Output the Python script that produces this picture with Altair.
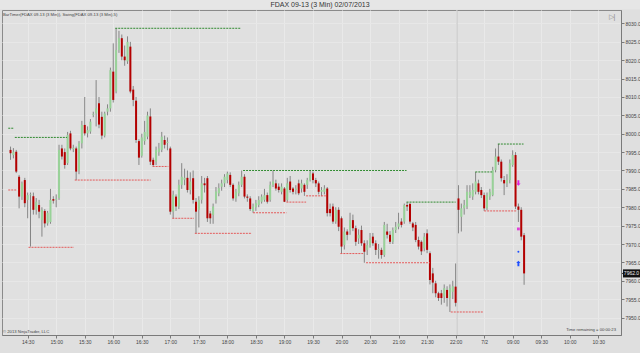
import json
import altair as alt
import pandas as pd

# ---------------- data ----------------
opens = [7995.6, 7994.2, 7995.1, 7988.3, 7982.9, 7987.4, 7982.0, 7983.3, 7983.0, 7979.3,
         7980.6, 7976.5, 7979.0, 7975.6, 7976.0, 7982.2, 7982.0, 7982.5, 7996.0, 7995.0,
         7992.0, 8000.1, 7995.8, 7996.0, 7990.0, 7997.4, 8002.4, 8000.1, 8000.6, 8005.1,
         8005.5, 8008.3, 8004.6, 7999.5, 8006.0, 8006.9, 8016.9, 8011.5, 8022.8, 8026.0,
         8021.0, 8019.7, 8023.7, 8012.0, 8009.0, 7998.0, 7994.0, 7998.0, 7999.2, 8004.7,
         7992.9, 7992.4, 7995.0, 7995.6, 7998.3, 7997.5, 7996.0, 7978.8, 7982.9, 7980.2,
         7986.1, 7987.5, 7988.0, 7984.7, 7987.9, 7981.5, 7979.3, 7982.0, 7986.5, 7987.9,
         7978.3, 7977.9, 7982.0, 7983.8, 7985.6, 7986.5, 7987.4, 7988.8, 7986.1, 7982.4,
         7983.8, 7986.1, 7988.3, 7982.9, 7982.4, 7979.0, 7980.0, 7980.6, 7981.5, 7982.0,
         7983.3, 7982.0, 7986.1, 7986.5, 7985.6, 7984.2, 7985.1, 7982.0, 7987.0, 7985.1,
         7984.7, 7986.5, 7985.1, 7986.1, 7986.1, 7987.4, 7989.2, 7987.4, 7986.5, 7984.2,
         7984.2, 7985.1, 7979.5, 7980.2, 7976.1, 7979.3, 7977.0, 7969.7, 7973.4, 7973.8,
         7976.5, 7974.3, 7971.5, 7973.8, 7970.2, 7968.4, 7969.7, 7972.0, 7970.2, 7968.4,
         7968.4, 7967.0, 7973.4, 7972.5, 7970.6, 7973.8, 7974.7, 7976.1, 7976.1, 7980.6,
         7980.9, 7975.6, 7975.2, 7971.1, 7970.6, 7968.8, 7972.9, 7967.5, 7962.0, 7959.3,
         7956.6, 7956.6, 7955.7, 7957.5, 7955.3, 7957.0, 7958.4,
         7982.4, 7977.4, 7979.7, 7980.2, 7983.3, 7982.9, 7984.2, 7986.5, 7984.7, 7983.3,
         7979.7, 7982.9, 7983.3, 7990.1, 7993.8, 7992.4, 7987.4, 7986.5, 7987.4, 7991.5,
         7994.2, 7980.2, 7979.3, 7972.4]
highs = [7996.5, 7996.1, 7995.6, 7988.8, 7987.0, 7988.0, 7984.0, 7984.0, 7984.0, 7982.5,
         7982.0, 7980.0, 7979.5, 7979.0, 7985.0, 7983.0, 7983.5, 7997.0, 7997.0, 7996.0,
         8000.5, 8000.8, 7997.0, 7996.5, 7998.0, 8003.5, 8010.0, 8002.0, 8004.0, 8006.0,
         8014.6, 8010.0, 8006.0, 8006.0, 8008.0, 8018.0, 8024.6, 8028.7, 8028.0, 8027.0,
         8024.0, 8026.5, 8025.0, 8013.0, 8010.0, 7998.5, 8000.0, 8003.5, 8006.0, 8006.9,
         7993.5, 7996.5, 7997.5, 8000.5, 7999.5, 7999.0, 7996.5, 7984.5, 7983.5, 7987.5,
         7992.0, 7990.5, 7990.0, 7989.5, 7990.0, 7982.5, 7983.0, 7988.5, 7988.0, 7988.5,
         7979.0, 7981.0, 7985.5, 7986.5, 7987.5, 7989.0, 7989.7, 7989.5, 7986.5, 7985.0,
         7987.0, 7990.0, 7989.0, 7983.5, 7983.0, 7981.0, 7982.0, 7983.0, 7983.5, 7985.0,
         7984.0, 7987.0, 7990.0, 7987.5, 7986.5, 7986.5, 7985.5, 7988.0, 7988.5, 7985.5,
         7986.0, 7987.5, 7987.5, 7986.5, 7988.0, 7990.1, 7989.7, 7988.0, 7987.0, 7985.5,
         7986.0, 7985.5, 7981.0, 7981.0, 7980.0, 7980.0, 7977.5, 7974.5, 7974.0, 7978.5,
         7978.0, 7975.0, 7974.0, 7975.0, 7971.0, 7971.0, 7973.0, 7973.0, 7971.0, 7970.0,
         7969.0, 7976.0, 7975.5, 7973.5, 7974.5, 7976.0, 7978.5, 7977.0, 7981.0, 7981.4,
         7981.2, 7976.0, 7976.0, 7972.0, 7971.0, 7973.0, 7974.0, 7968.0, 7963.5, 7960.0,
         7957.0, 7957.5, 7959.0, 7958.5, 7959.0, 7960.0, 7964.7,
         7986.0, 7981.0, 7982.0, 7986.0, 7986.0, 7986.5, 7989.6, 7987.5, 7985.5, 7984.0,
         7984.0, 7985.0, 7991.0, 7996.0, 7997.2, 7993.0, 7988.5, 7989.0, 7993.0, 7995.5,
         7995.0, 7981.0, 7980.0, 7973.0]
lows = [7992.9, 7993.3, 7989.3, 7979.7, 7982.0, 7980.0, 7977.0, 7969.3, 7978.0, 7978.0,
        7977.0, 7972.0, 7974.5, 7975.0, 7975.5, 7981.0, 7980.0, 7982.0, 7993.0, 7990.5,
        7991.5, 7995.5, 7995.0, 7987.4, 7989.0, 7996.0, 7999.5, 7999.0, 8000.0, 8004.5,
        8002.0, 8001.5, 7998.5, 7999.0, 8005.0, 8006.0, 8008.5, 8011.0, 8022.0, 8020.0,
        8018.5, 8019.0, 8011.0, 8007.5, 7997.5, 7991.5, 7993.5, 7997.0, 7998.5, 7991.5,
        7991.1, 7991.5, 7994.0, 7995.0, 7996.0, 7995.5, 7978.0, 7977.0, 7979.0, 7979.5,
        7985.0, 7986.0, 7984.0, 7983.5, 7981.0, 7972.9, 7974.5, 7981.0, 7984.0, 7976.0,
        7975.5, 7975.5, 7981.0, 7983.0, 7984.5, 7985.5, 7986.5, 7985.5, 7981.8, 7981.5,
        7983.0, 7985.5, 7982.4, 7981.5, 7979.0, 7978.5, 7979.0, 7980.0, 7981.0, 7981.5,
        7981.0, 7981.5, 7985.5, 7984.5, 7984.0, 7983.5, 7981.4, 7981.5, 7984.0, 7983.5,
        7983.5, 7983.3, 7984.0, 7983.1, 7985.0, 7987.0, 7986.5, 7985.5, 7983.5, 7983.0,
        7983.5, 7977.5, 7977.5, 7975.5, 7975.5, 7973.5, 7967.4, 7968.5, 7971.0, 7972.5,
        7973.5, 7969.5, 7970.0, 7969.5, 7964.9, 7967.0, 7969.0, 7969.5, 7967.0, 7966.0,
        7966.0, 7966.5, 7971.5, 7970.0, 7970.0, 7973.0, 7974.0, 7974.5, 7975.5, 7979.0,
        7975.5, 7973.5, 7970.5, 7968.5, 7967.0, 7968.0, 7967.5, 7959.0, 7956.6, 7955.5,
        7954.5, 7953.5, 7954.0, 7953.0, 7951.5, 7955.0, 7953.0,
        7972.9, 7973.4, 7978.0, 7979.5, 7982.5, 7982.0, 7983.5, 7983.5, 7982.5, 7979.0,
        7979.2, 7982.0, 7983.0, 7989.5, 7991.5, 7987.0, 7983.3, 7985.5, 7986.5, 7991.0,
        7979.5, 7976.0, 7971.0, 7958.9]
closes = [7994.7, 7995.1, 7989.7, 7982.9, 7986.5, 7981.1, 7983.3, 7983.5, 7979.3, 7981.5,
          7978.8, 7979.3, 7975.6, 7978.5, 7982.0, 7981.8, 7982.3, 7995.6, 7993.8, 7991.5,
          7999.7, 7996.0, 7996.2, 7989.7, 7997.4, 8002.4, 8000.1, 8001.0, 8003.3, 8005.3,
          8006.9, 8002.5, 7999.5, 8005.5, 8006.9, 8017.3, 8009.2, 8022.8, 8026.0, 8021.0,
          8020.0, 8025.0, 8011.5, 8009.2, 7998.3, 7993.5, 7999.0, 8000.5, 8005.0, 7992.4,
          7991.5, 7995.6, 7996.0, 7999.2, 7997.0, 7997.8, 7978.8, 7983.4, 7980.2, 7986.1,
          7988.3, 7988.0, 7984.7, 7987.0, 7982.0, 7978.8, 7982.0, 7986.5, 7986.0, 7977.0,
          7977.0, 7980.2, 7984.3, 7985.2, 7986.5, 7988.3, 7989.2, 7986.1, 7982.4, 7984.2,
          7986.1, 7988.3, 7982.9, 7982.6, 7979.5, 7980.2, 7981.1, 7982.0, 7982.9, 7983.3,
          7981.5, 7986.1, 7987.0, 7985.1, 7984.7, 7985.6, 7981.5, 7986.5, 7984.7, 7984.2,
          7985.1, 7983.8, 7986.5, 7984.2, 7987.4, 7989.2, 7987.4, 7986.5, 7984.2, 7984.7,
          7985.1, 7978.4, 7978.4, 7976.1, 7979.3, 7974.7, 7969.3, 7973.4, 7972.5, 7976.5,
          7974.3, 7970.6, 7972.5, 7970.2, 7967.9, 7969.7, 7971.5, 7970.2, 7968.4, 7968.6,
          7967.0, 7975.2, 7972.5, 7970.6, 7973.8, 7974.7, 7975.6, 7975.2, 7980.6, 7980.2,
          7976.1, 7974.5, 7971.1, 7969.3, 7968.0, 7972.0, 7968.4, 7960.2, 7959.5, 7956.6,
          7955.3, 7955.3, 7958.0, 7955.3, 7958.0, 7958.5, 7954.0,
          7979.3, 7979.7, 7980.6, 7984.2, 7984.2, 7984.7, 7987.0, 7984.2, 7983.3, 7979.7,
          7983.3, 7984.2, 7990.1, 7993.8, 7992.4, 7987.9, 7986.5, 7987.4, 7992.0, 7994.2,
          7980.2, 7979.3, 7972.0, 7962.0]

# swing indicator lines: level, first bar, last bar
green_levels = [8001.5, 7999.0, 8028.7, 7990.0, 7981.4, 7989.6, 7997.2]
green_start = [-0.8, 1.5, 36.7, 81.5, 138.8, 162.9, 170.8]
green_end = [1.2, 19.8, 80.8, 138.8, 156.0, 168.8, 179.8]
red_levels = [7984.7, 7969.1, 7987.4, 7991.1, 7977.0, 7972.9, 7978.5, 7981.4, 7983.1,
              7967.4, 7964.9, 7951.5, 7979.0]
red_start = [-0.8, 6.3, 22.5, 49.8, 56.7, 64.6, 85.0, 96.7, 103.6, 115.6, 124.6, 154.3, 166.0]
red_end = [2.2, 22.2, 49.1, 55.3, 64.3, 84.6, 96.7, 103.6, 110.5, 123.6, 147.0, 165.7, 177.4]

# signal markers on bar 178
marker_bar = [178, 178, 178, 178]
marker_price = [7986.6, 7974.1, 7967.9, 7964.7]
marker_kind = ["down", "square", "dot", "up"]

session_breaks = [156.5]

x_label_bars = [6, 16, 26, 36, 46, 56, 66, 76, 86, 96, 106, 116, 126, 136, 146, 156,
                166, 176, 186, 196, 206]
x_labels = ["14:30", "15:00", "15:30", "16:00", "16:30", "17:00", "17:30", "18:00",
            "18:30", "19:00", "19:30", "20:00", "20:30", "21:00", "21:30", "22:00",
            "7/2", "09:00", "09:30", "10:00", "10:30"]
y_ticks = [7950 + 5 * k for k in range(17)]

title_text = "FDAX 09-13 (3 Min)  02/07/2013"
legend_text = "BarTimer(FDAX 09-13 (3 Min)), Swing(FDAX 09-13 (3 Min),5)"
copyright_text = "© 2013 NinjaTrader, LLC"
timer_text = "Time remaining = 00:00:23"

# ---------------- chart ----------------
FONT = "Liberation Sans"
W, H = 619, 325
xs = alt.Scale(domain=[-1.241, 212.21], nice=False, zero=False)
ys = alt.Scale(domain=[7945.24, 8033.67], nice=False, zero=False)

bars = pd.DataFrame({"i": list(range(len(opens))), "o": opens, "h": highs,
                     "l": lows, "c": closes})

label_expr = ("[" + ",".join("'%s'" % s for s in x_labels) + "][indexof("
              + json.dumps(x_label_bars) + ", datum.value)]")

x_axis = alt.Axis(values=x_label_bars, labelExpr=label_expr, title=None,
                  grid=True, gridColor="#e9e9e9", gridWidth=1,
                  domainColor="#7a7a7a", tickColor="#7a7a7a", tickSize=3,
                  labelFontSize=5, labelColor="#444444", labelFont=FONT,
                  labelPadding=1, labelFlush=False, labelOverlap=False)
y_axis = alt.Axis(orient="right", values=y_ticks, format=".1f", title=None,
                  grid=True, gridColor="#e7e7e7", gridWidth=1,
                  domainColor="#7a7a7a", tickColor="#7a7a7a", tickSize=3,
                  labelFontSize=5, labelColor="#444444", labelFont=FONT,
                  labelPadding=1, labelOverlap=False, labelFlush=False)

XQ = lambda f: alt.X(f, scale=xs, axis=x_axis)
YQ = lambda f: alt.Y(f, scale=ys, axis=y_axis)

base = alt.Chart(bars)

wicks = base.mark_rule(color="#858585", strokeWidth=1).encode(
    x=XQ("i:Q"), y=YQ("l:Q"), y2="h:Q")
bodies = base.mark_bar(size=2).encode(
    x=XQ("i:Q"), y=YQ("o:Q"), y2="c:Q",
    color=alt.condition("datum.c >= datum.o", alt.value("#98d298"), alt.value("#b40000")),
)

breaks = alt.Chart(pd.DataFrame({"b": session_breaks})).mark_rule(
    color="#c6c6c6", strokeWidth=1).encode(x=XQ("b:Q"))

gdf = pd.DataFrame({"lvl": green_levels, "s": green_start, "e": green_end})
rdf = pd.DataFrame({"lvl": red_levels, "s": red_start, "e": red_end})
green_lines = alt.Chart(gdf).mark_rule(color="#2f8a2f", strokeWidth=1,
                                       strokeDash=[2, 1]).encode(
    x=XQ("s:Q"), x2="e:Q", y=YQ("lvl:Q"))
red_lines = alt.Chart(rdf).mark_rule(color="#e45a5a", strokeWidth=1,
                                     strokeDash=[2, 1]).encode(
    x=XQ("s:Q"), x2="e:Q", y=YQ("lvl:Q"))

mdf = pd.DataFrame({"i": marker_bar, "p": marker_price, "k": marker_kind})
down_arrow = "M-0.35,-1L0.35,-1L0.35,0.2L0.8,0.2L0,1L-0.8,0.2L-0.35,0.2Z"
up_arrow = "M-0.35,1L0.35,1L0.35,-0.2L0.8,-0.2L0,-1L-0.8,-0.2L-0.35,-0.2Z"


def marker(kind, shape, color, size):
    return alt.Chart(mdf).transform_filter("datum.k == '%s'" % kind).mark_point(
        shape=shape, filled=True, color=color, size=size, opacity=1).encode(
        x=XQ("i:Q"), y=YQ("p:Q"))


m_down = marker("down", down_arrow, "#e020e0", 30)
m_up = marker("up", up_arrow, "#1f4fff", 30)
m_sq = marker("square", "square", "#e040d8", 8)
m_dot = marker("dot", "circle", "#1f4fff", 4)

last = pd.DataFrame({"p": [closes[-1]]})
price_box = alt.Chart(last).transform_calculate(
    p1="datum.p + 1.1", p2="datum.p - 1.1").mark_rect(color="#111111").encode(
    x=alt.value(W + 2), x2=alt.value(W + 19), y=YQ("p1:Q"), y2="p2:Q")
price_arrow = alt.Chart(last).mark_point(shape="triangle-left", filled=True,
                                         color="#111111", size=8, opacity=1).encode(
    x=alt.value(W + 2), y=YQ("p:Q"))
price_text = alt.Chart(last).mark_text(font=FONT, fontSize=5, color="#f0f0f0",
                                       align="center", baseline="middle").encode(
    x=alt.value(W + 10.5), y=YQ("p:Q"), text=alt.Text("p:Q", format=".1f"))


def label(txt, x, y, size, align="left", color="#444444"):
    return alt.Chart(pd.DataFrame({"t": [txt]})).mark_text(
        font=FONT, fontSize=size, color=color, align=align, baseline="middle").encode(
        x=alt.value(x), y=alt.value(y), text="t:N")


title_band = alt.Chart(pd.DataFrame({"a": [0]})).mark_rect(color="#e6e6e6").encode(
    x=alt.value(-2), x2=alt.value(W + 21), y=alt.value(-10), y2=alt.value(-0.5))

texts = [
    label(title_text, 318, -5, 7, "center", "#333333"),
    label(legend_text, 1, 4.5, 4.2),
    label(copyright_text, 1, 322, 4.2),
    label(timer_text, 614, 320, 4.2, "right"),
    label("▷|", 610, 7, 7, "center", "#888888"),
]

chart = alt.layer(
    title_band, breaks, wicks, bodies, green_lines, red_lines,
    m_down, m_up, m_sq, m_dot, price_box, price_arrow, price_text, *texts
).properties(
    width=W, height=H,
    autosize=alt.AutoSizeParams(type="none"),
    padding={"left": 2, "top": 10, "right": 19, "bottom": 18},
    background="#dfdfdf",
).configure_view(stroke="#8a8a8a", strokeWidth=1, fill="#e0e0e0"
).configure_axis(labelOverlap=False, labelBound=False)

chart.save("out.html", embed_options={"renderer": "svg", "actions": False})
